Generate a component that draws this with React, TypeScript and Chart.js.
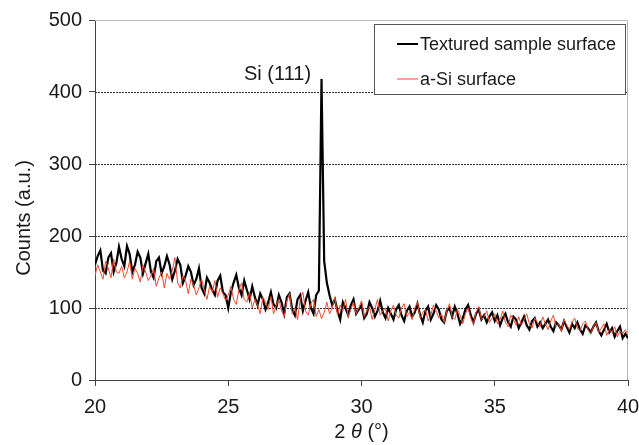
import React, { useEffect, useRef } from 'react';
import { Chart, registerables } from 'chart.js';

Chart.register(...registerables);

// 2θ grid: starts at 20°, 0.1° step (one value per sample below)
const twoThetaStart = 20;
const twoThetaStep = 0.1;

const texturedCounts = [
  160, 172, 180, 152, 148, 170, 176, 150, 162, 185,
  168, 158, 186, 175, 150, 160, 178, 170, 148, 162,
  175, 150, 142, 165, 170, 148, 158, 172, 160, 140,
  152, 168, 160, 135, 145, 158, 150, 132, 140, 155,
  128, 120, 142, 135, 125, 118, 138, 145, 122, 118,
  100, 122, 135, 146, 128, 118, 138, 125, 112, 130,
  115, 104, 120, 112, 98, 108, 122, 105, 100, 118,
  108, 92, 115, 120, 98, 90, 112, 118, 96, 110,
  122, 100, 92, 118, 124, 418, 165, 135, 118, 104,
  112, 96, 84, 108, 100, 90, 104, 112, 92, 98,
  104, 86, 92, 108, 100, 88, 96, 110, 94, 86,
  100, 92, 84, 98, 104, 90, 82, 96, 102, 88,
  94, 106, 90, 80, 96, 102, 84, 92, 104, 98,
  84, 80, 96, 100, 88, 102, 92, 78, 86, 98,
  104, 90, 80, 92, 98, 84, 90, 80, 88, 94,
  82, 90, 76, 86, 92, 80, 74, 88, 84, 72,
  80, 88, 76, 70, 82, 86, 74, 80, 72, 78,
  84, 74, 68, 80, 76, 70, 82, 74, 66, 78,
  72, 80, 70, 64, 76, 72, 66, 74, 80, 68,
  62, 70, 78, 66, 72, 60, 68, 74, 58, 64,
  58,
];

const aSiCounts = [
  145, 160, 150, 140, 165, 155, 142, 168, 150, 148,
  158, 142, 150, 165, 140, 155, 148, 136, 160, 150,
  138, 145, 155, 130, 142, 150, 128, 148, 140, 152,
  170, 135, 128, 145, 138, 120, 140, 132, 118, 128,
  140, 125, 112, 130, 122, 138, 115, 128, 120, 110,
  118, 130, 112, 105, 125, 135, 112, 108, 122, 100,
  112, 104, 92, 115, 108, 98, 116, 92, 104, 112,
  96, 88, 110, 120, 92, 100, 84, 112, 122, 96,
  90, 106, 112, 88, 98, 85, 94, 108, 92, 100,
  115, 90, 104, 96, 112, 88, 98, 108, 92, 100,
  110, 88, 96, 102, 84, 98, 112, 90, 96, 100,
  82, 96, 104, 90, 86, 100, 106, 88, 94, 84,
  100, 108, 86, 94, 98, 82, 90, 104, 96, 86,
  92, 80, 96, 106, 88, 84, 98, 90, 78, 92,
  100, 86, 78, 94, 102, 84, 88, 96, 80, 86,
  92, 78, 84, 96, 80, 74, 90, 84, 76, 88,
  76, 84, 92, 78, 72, 86, 80, 74, 88, 78,
  70, 82, 90, 74, 78, 68, 84, 76, 70, 80,
  86, 72, 68, 78, 82, 70, 64, 74, 80, 66,
  72, 78, 62, 70, 66, 74, 60, 68, 64, 70,
  62,
];

const xTickValues = [20, 25, 30, 35, 40];
const yTickValues = [0, 100, 200, 300, 400, 500];
const gridValues = [100, 200, 300, 400];
const seriesNames = ['Textured sample surface', 'a-Si surface'];
const peakLabel = 'Si (111)';
const yTitle = 'Counts (a.u.)';

const FONT = "'Liberation Sans', Arial, Helvetica, sans-serif";
const BLACK = '#000000';
const RED = '#ef4a32';

const decorPlugin = {
  id: 'decor',
  beforeDatasetsDraw(chart: any) {
    const { ctx, chartArea, scales } = chart;
    const y = scales.y;
    ctx.save();
    ctx.strokeStyle = '#333';
    ctx.lineWidth = 1;
    ctx.setLineDash([2, 1]);
    gridValues.forEach((v) => {
      const py = Math.round(y.getPixelForValue(v)) + 0.5;
      ctx.beginPath();
      ctx.moveTo(chartArea.left, py);
      ctx.lineTo(chartArea.right, py);
      ctx.stroke();
    });
    ctx.setLineDash([]);
    ctx.strokeStyle = '#b8b8b8';
    ctx.beginPath();
    ctx.moveTo(chartArea.left, chartArea.top + 0.5);
    ctx.lineTo(chartArea.right - 0.5, chartArea.top + 0.5);
    ctx.lineTo(chartArea.right - 0.5, chartArea.bottom);
    ctx.stroke();
    ctx.restore();
  },
  afterDatasetsDraw(chart: any) {
    const { ctx, scales } = chart;
    ctx.save();
    // legend box
    const bx = 374.5, by = 24.5, bw = 251, bh = 70;
    ctx.fillStyle = '#fff';
    ctx.fillRect(bx, by, bw, bh);
    ctx.strokeStyle = '#555';
    ctx.lineWidth = 1;
    ctx.strokeRect(bx, by, bw, bh);
    const rows = [
      { name: seriesNames[0], color: BLACK, w: 2, y: 44 },
      { name: seriesNames[1], color: RED, w: 1, y: 79 },
    ];
    ctx.font = `18px ${FONT}`;
    ctx.textBaseline = 'middle';
    ctx.textAlign = 'left';
    rows.forEach((r) => {
      ctx.strokeStyle = r.color;
      ctx.lineWidth = r.w;
      ctx.beginPath();
      ctx.moveTo(397, r.y);
      ctx.lineTo(418, r.y);
      ctx.stroke();
      ctx.fillStyle = '#1a1a1a';
      ctx.fillText(r.name, 420, r.y + 1);
    });
    // peak label
    ctx.font = `20px ${FONT}`;
    ctx.textAlign = 'center';
    ctx.fillStyle = '#1a1a1a';
    ctx.fillText(peakLabel, scales.x.getPixelForValue(26.85), scales.y.getPixelForValue(424));
    ctx.restore();
  },
  afterDraw(chart: any) {
    const { ctx, chartArea } = chart;
    ctx.save();
    ctx.fillStyle = '#1a1a1a';
    ctx.textBaseline = 'middle';
    // y title
    ctx.font = `20px ${FONT}`;
    ctx.translate(24, 218);
    ctx.rotate(-Math.PI / 2);
    ctx.textAlign = 'center';
    ctx.fillText(yTitle, 0, 0);
    ctx.setTransform(1, 0, 0, 1, 0, 0);
    // x title: 2θ (°) with italic theta
    const parts = [
      { t: '2 ', f: `20px ${FONT}` },
      { t: 'θ', f: `italic 20px ${FONT}` },
      { t: ' (°)', f: `20px ${FONT}` },
    ];
    let total = 0;
    parts.forEach((p) => {
      ctx.font = p.f;
      total += ctx.measureText(p.t).width;
    });
    const cx = (chartArea.left + chartArea.right) / 2;
    let x = cx - total / 2;
    ctx.textAlign = 'left';
    parts.forEach((p) => {
      ctx.font = p.f;
      ctx.fillText(p.t, x, 432);
      x += ctx.measureText(p.t).width;
    });
    ctx.restore();
  },
};

export default function App() {
  const ref = useRef<HTMLCanvasElement>(null);
  useEffect(() => {
    if (!ref.current) return;
    const xs = texturedCounts.map((_, i) => +(twoThetaStart + i * twoThetaStep).toFixed(2));
    const chart = new Chart(ref.current, {
      type: 'line',
      data: {
        datasets: [
          {
            label: seriesNames[0],
            data: texturedCounts.map((v, i) => ({ x: xs[i], y: v })),
            borderColor: BLACK,
            borderWidth: 2.2,
            pointRadius: 0,
            tension: 0,
            fill: false,
            order: 1,
          },
          {
            label: seriesNames[1],
            data: aSiCounts.map((v, i) => ({ x: xs[i], y: v })),
            borderColor: RED,
            borderWidth: 1,
            pointRadius: 0,
            tension: 0,
            fill: false,
            order: 0,
          },
        ],
      },
      options: {
        responsive: false,
        animation: false,
        devicePixelRatio: 1,
        layout: { padding: { left: 0, right: 11, top: 20, bottom: 0 } },
        plugins: { legend: { display: false }, tooltip: { enabled: false } },
        scales: {
          x: {
            type: 'linear',
            min: 20,
            max: 40,
            afterBuildTicks: (s: any) => {
              s.ticks = xTickValues.map((v) => ({ value: v }));
            },
            ticks: { font: { family: FONT, size: 20 }, color: '#1a1a1a', padding: 9, maxRotation: 0, autoSkip: false },
            grid: { drawOnChartArea: false, drawTicks: true, tickLength: 6, color: '#444' },
            border: { color: '#444', width: 1 },
            afterFit: (s: any) => {
              s.height = 65;
              s.paddingLeft = 0;
              s.paddingRight = 0;
            },
          },
          y: {
            min: 0,
            max: 500,
            afterBuildTicks: (s: any) => {
              s.ticks = yTickValues.map((v) => ({ value: v }));
            },
            ticks: { font: { family: FONT, size: 20 }, color: '#1a1a1a', padding: 7 },
            grid: { drawOnChartArea: false, drawTicks: true, tickLength: 6, color: '#444' },
            border: { color: '#444', width: 1 },
            afterFit: (s: any) => {
              s.width = 95;
              s.paddingTop = 0;
              s.paddingBottom = 0;
            },
          },
        },
      },
      plugins: [decorPlugin],
    } as any);
    return () => chart.destroy();
  }, []);
  return (
    <div style={{ position: 'absolute', left: 0, top: 0, width: 639, height: 445, background: '#fff' }}>
      <canvas ref={ref} width={639} height={445} style={{ display: 'block' }} />
    </div>
  );
}
